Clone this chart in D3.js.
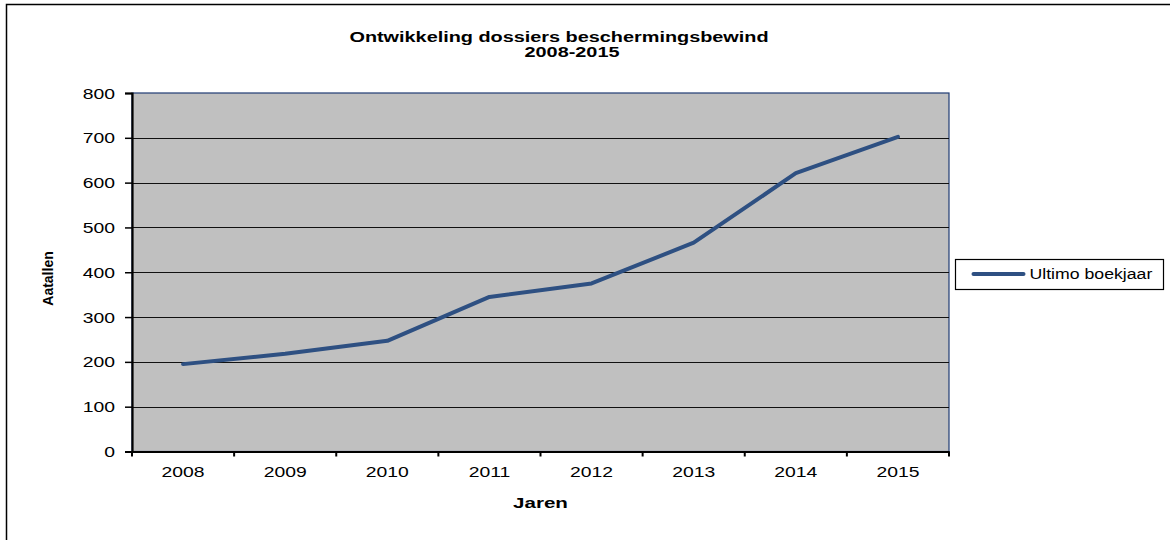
<!DOCTYPE html>
<html>
<head>
<meta charset="utf-8">
<script src="https://cdn.jsdelivr.net/npm/d3@7"></script>
<style>
  body { margin: 0; background: #fff; }
  text { font-family: "Liberation Sans", Arial, sans-serif; fill: #000; }
</style>
</head>
<body>
<div id="chart"></div>
<script>
let years = ["2008", "2009", "2010", "2011", "2012", "2013", "2014", "2015"];
let ultimoValues = [195, 218, 247, 345, 375, 466, 621, 702];
let yTicks = [0, 100, 200, 300, 400, 500, 600, 700, 800];
let seriesName = "Ultimo boekjaar";
let titleLines = ["Ontwikkeling dossiers beschermingsbewind", "2008-2015"];

let margin = {container_width: 1170, container_height: 540, top: 93, right: 221, bottom: 88.5, left: 132},
    width = margin.container_width - margin.left - margin.right,
    height = margin.container_height - margin.top - margin.bottom;

// the picture's horizontal text is drawn wider than normal
let stretchX = 1.29;

function stretch(sel, k) {
    sel.each(function() {
        let t = d3.select(this);
        let x = +t.attr("x") || 0, y = +t.attr("y") || 0;
        t.attr("x", 0).attr("y", 0)
            .attr("transform", "translate(" + x + "," + y + ") scale(" + k + ",1)");
    });
}

let root = d3.select("#chart")
    .append("svg")
    .attr("width", margin.container_width)
    .attr("height", margin.container_height);

// outer chart border (only the left and top edges are in view)
root.append("rect")
    .attr("x", 6.5).attr("y", 4.5)
    .attr("width", 1300).attr("height", 700)
    .attr("fill", "none")
    .attr("stroke", "#000")
    .attr("stroke-width", 1.5);

let svg = root.append("g")
    .attr("transform", "translate(" + margin.left + "," + margin.top + ")");

let x = d3.scaleBand()
    .domain(years)
    .range([0, width]);

let y = d3.scaleLinear()
    .domain([0, 800])
    .range([height, 0]);

// plot area
svg.append("rect")
    .attr("width", width)
    .attr("height", height)
    .attr("fill", "#c0c0c0")
    .attr("stroke", "#1f3b73")
    .attr("stroke-width", 1.2);

// gridlines
svg.append("g")
    .selectAll("line")
    .data(yTicks.filter(d => d > 0 && d < 800))
    .enter()
    .append("line")
    .attr("x1", 0)
    .attr("x2", width)
    .attr("y1", d => Math.round(y(d)) + 0.5)
    .attr("y2", d => Math.round(y(d)) + 0.5)
    .attr("stroke", "#111")
    .attr("stroke-width", 1.2);

let yAxis = svg.append("g")
    .attr("class", "axis y-axis")
    .call(d3.axisLeft(y).tickValues(yTicks).tickSize(7).tickPadding(10).tickFormat(d3.format("d")));

let xAxis = svg.append("g")
    .attr("class", "axis x-axis")
    .attr("transform", "translate(0," + height + ")")
    .call(d3.axisBottom(x).tickSize(0).tickPadding(20));

// category boundary ticks
svg.append("g")
    .attr("transform", "translate(0," + height + ")")
    .selectAll("line")
    .data(years.map(d => x(d)).concat([width]))
    .enter()
    .append("line")
    .attr("x1", d => d).attr("x2", d => d)
    .attr("y1", 0).attr("y2", 5)
    .attr("stroke", "#000")
    .attr("stroke-width", 2);

svg.selectAll(".axis path.domain")
    .attr("stroke", "#000")
    .attr("stroke-width", 2.2);
svg.selectAll(".axis .tick line")
    .attr("stroke", "#000")
    .attr("stroke-width", 1.5);
svg.selectAll(".axis text")
    .style("font-family", "'Liberation Sans', Arial, sans-serif")
    .style("font-size", "15px")
    .attr("fill", "#000");

yAxis.selectAll(".tick text").each(function() {
    let t = d3.select(this);
    t.attr("dy", null).attr("y", 5);
});
stretch(yAxis.selectAll(".tick text"), stretchX);
xAxis.selectAll(".tick text").attr("dy", null).attr("y", 25);
stretch(xAxis.selectAll(".tick text"), stretchX);

// series line
let line = d3.line()
    .x((d, i) => x(years[i]) + x.bandwidth() / 2)
    .y(d => y(d));

svg.append("path")
    .datum(ultimoValues)
    .attr("d", line)
    .attr("fill", "none")
    .attr("stroke", "#2e5082")
    .attr("stroke-width", 4)
    .attr("stroke-linejoin", "round")
    .attr("stroke-linecap", "round");

// title
root.append("g").selectAll("text")
    .data(titleLines)
    .enter()
    .append("text")
    .attr("x", (d, i) => i == 0 ? 559 : 572)
    .attr("y", (d, i) => i == 0 ? 41.5 : 56.5)
    .attr("text-anchor", "middle")
    .style("font-size", "14.5px")
    .style("font-weight", "bold")
    .text(d => d)
    .call(stretch, 1.37);

// axis titles
root.append("text")
    .attr("x", 540.5)
    .attr("y", 508)
    .attr("text-anchor", "middle")
    .style("font-size", "15px")
    .style("font-weight", "bold")
    .text("Jaren")
    .call(stretch, 1.37);

root.append("text")
    .attr("transform", "translate(53,278.5) rotate(-90)")
    .attr("text-anchor", "middle")
    .style("font-size", "14px")
    .style("font-weight", "bold")
    .text("Aatallen");

// legend
let legend = root.append("g")
    .attr("transform", "translate(955.5,259.5)");

legend.append("rect")
    .attr("width", 208)
    .attr("height", 30)
    .attr("fill", "#fff")
    .attr("stroke", "#000")
    .attr("stroke-width", 1.2);

legend.append("line")
    .attr("x1", 18).attr("x2", 68)
    .attr("y1", 14.5).attr("y2", 14.5)
    .attr("stroke", "#2e5082")
    .attr("stroke-width", 4)
    .attr("stroke-linecap", "round");

legend.append("text")
    .attr("x", 74)
    .attr("y", 19.5)
    .style("font-size", "14.5px")
    .text(seriesName)
    .call(stretch, 1.22);
</script>
</body>
</html>
